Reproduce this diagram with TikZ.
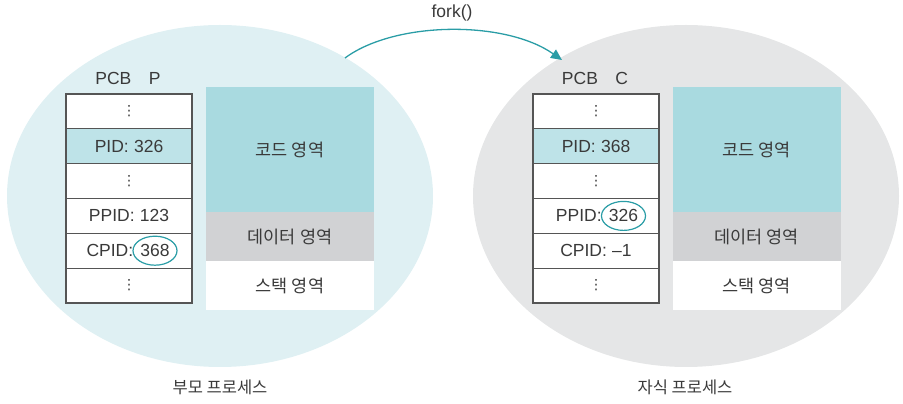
\documentclass[tikz,border=0pt]{standalone}
\usepackage{fontspec}
\setmainfont{Liberation Sans}
\newfontfamily\kr{Noto Sans CJK KR}
\newfontfamily\symf{DejaVu Sans}
\usetikzlibrary{shapes.geometric,arrows.meta}
\definecolor{txt}{HTML}{3A3A3A}
\definecolor{parentbg}{HTML}{DFF0F3}
\definecolor{childbg}{HTML}{E5E6E7}
\definecolor{codec}{HTML}{A9DAE0}
\definecolor{pidc}{HTML}{BEE3E8}
\definecolor{datac}{HTML}{D1D2D4}
\definecolor{teal}{HTML}{2A9DA6}
\definecolor{gridc}{HTML}{555555}
\begin{document}
\begin{tikzpicture}[x=1pt,y=1pt,
  every node/.style={text=txt,font=\fontsize{17.5}{19}\selectfont},
  procbg/.style={ellipse,minimum width=426,minimum height=342,inner sep=0},
  pcbrow/.style={draw=gridc,line width=1.1pt,fill=white,minimum width=126,minimum height=34.83,inner sep=0,outer sep=0},
  rowtxt/.style={inner sep=1pt},
  memreg/.style={minimum width=168,inner sep=0,outer sep=0},
  memtxt/.style={inner sep=1pt,font=\kr\fontsize{17.5}{19}\selectfont},
  dotsrow/.style={inner sep=0pt,font=\symf\fontsize{14}{15}\selectfont},
  circ/.style={ellipse,draw=teal,line width=1.2pt,minimum width=44,minimum height=29,inner sep=0},
  lbl/.style={font=\kr\fontsize{16.5}{18}\selectfont},
  forkarrow/.style={draw=teal,line width=1.3pt,-{Triangle[length=11pt,width=10pt]}}
]
\useasboundingbox (0,0) rectangle (903,404);
% process backgrounds
\node[procbg,fill=parentbg] (pe) at (220,208) {};
\node[procbg,fill=childbg] (ce) at (686,208) {};
% fork arrow
\coordinate (fs) at (345,346);
\coordinate (ft) at (562,344);
\draw[forkarrow] (fs) .. controls (395,383) and (505,384) .. (ft);
\node (fork) at (452,391) {fork()};
% ---------- parent ----------
\node (pcbp) at (128,326) {PCB\hspace{1em}P};
\node[pcbrow] (p1) at (129,292.6) {};
\node[pcbrow,fill=pidc] (p2) at (129,257.8) {};
\node[pcbrow] (p3) at (129,222.9) {};
\node[pcbrow] (p4) at (129,188.1) {};
\node[pcbrow] (p5) at (129,153.3) {};
\node[pcbrow] (p6) at (129,118.4) {};
\node[dotsrow] (p1t) at (p1) {⋮};
\node[rowtxt] (p2t) at (p2) {PID:\hspace{0.3em}326};
\node[dotsrow] (p3t) at (p3) {⋮};
\node[rowtxt] (p4t) at (p4) {PPID:\hspace{0.3em}123};
\node[circ] (pc) at (155,153.3) {368};
\node[anchor=east,inner sep=0] (pcl) at ([xshift=1pt]pc.west) {CPID:};
\node[dotsrow] (p6t) at (p6) {⋮};
\node[memreg,fill=codec,minimum height=125] (pcode) at (290,254.5) {};
\node[memreg,fill=datac,minimum height=49] (pdata) at (290,167.5) {};
\node[memreg,fill=white,minimum height=49] (pstack) at (290,118.5) {};
\node[memtxt] at (pcode) {코드 영역};
\node[memtxt] at (pdata) {데이터 영역};
\node[memtxt] at (pstack) {스택 영역};
\node[lbl] (plbl) at (220,17) {부모 프로세스};
% ---------- child ----------
\node (pcbc) at (595,326) {PCB\hspace{1em}C};
\node[pcbrow] (c1) at (596,292.6) {};
\node[pcbrow,fill=pidc] (c2) at (596,257.8) {};
\node[pcbrow] (c3) at (596,222.9) {};
\node[pcbrow] (c4) at (596,188.1) {};
\node[pcbrow] (c5) at (596,153.3) {};
\node[pcbrow] (c6) at (596,118.4) {};
\node[dotsrow] (c1t) at (c1) {⋮};
\node[rowtxt] (c2t) at (c2) {PID:\hspace{0.3em}368};
\node[dotsrow] (c3t) at (c3) {⋮};
\node[circ] (cc) at (623.5,188.1) {326};
\node[anchor=east,inner sep=0] (ccl) at ([xshift=1pt]cc.west) {PPID:};
\node[rowtxt] (c5t) at (c5) {CPID:\hspace{0.3em}–1};
\node[dotsrow] (c6t) at (c6) {⋮};
\node[memreg,fill=codec,minimum height=125] (ccode) at (756.5,254.5) {};
\node[memreg,fill=datac,minimum height=49] (cdata) at (756.5,167.5) {};
\node[memreg,fill=white,minimum height=49] (cstack) at (756.5,118.5) {};
\node[memtxt] at (ccode) {코드 영역};
\node[memtxt] at (cdata) {데이터 영역};
\node[memtxt] at (cstack) {스택 영역};
\node[lbl] (clbl) at (685,17) {자식 프로세스};
\end{tikzpicture}
\end{document}
